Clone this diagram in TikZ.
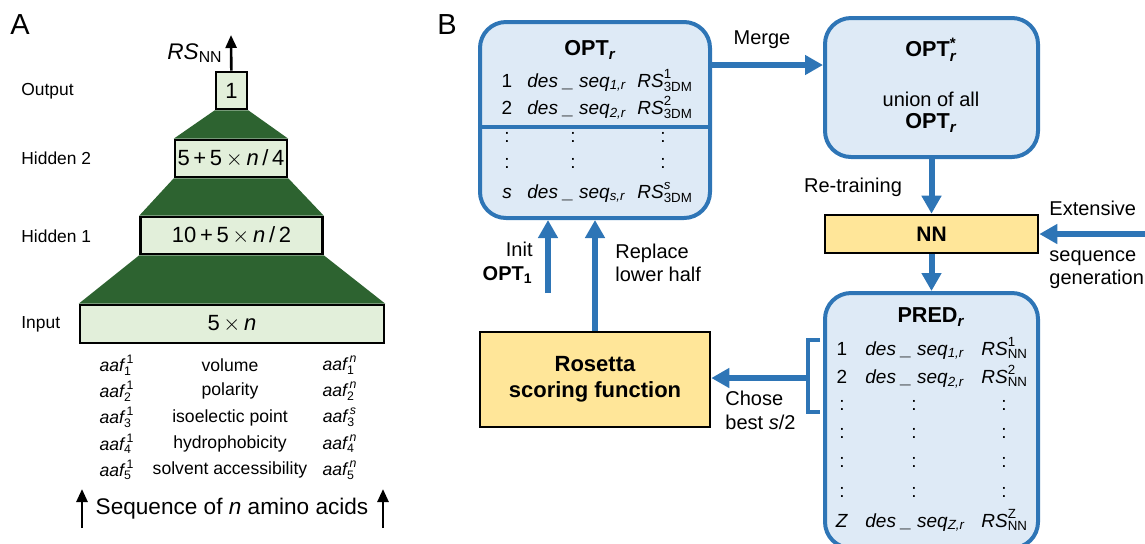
\documentclass[tikz,border=0pt]{standalone}
\usepackage{amsmath}
\usepackage{fontspec}
\setmainfont{Liberation Sans}
\usetikzlibrary{arrows.meta,backgrounds,positioning}

\definecolor{layergreen}{HTML}{E2EFDA}
\definecolor{funnelgreen}{HTML}{2D6330}
\definecolor{poolblue}{HTML}{2E75B6}
\definecolor{poolfill}{HTML}{DEEAF6}
\definecolor{procyellow}{HTML}{FFE699}

\newcommand{\desseq}[1]{\textit{des\ \_\ seq}$_{\text{\itshape #1}}$}
\newcommand{\rscore}[2]{$\textit{RS}^{\text{#1}}_{\text{#2}}$}
\newcommand{\aaf}[2]{$\textit{aaf}^{\,\text{#2}}_{\text{#1}}$}
\newcommand{\boldsub}[2]{\textbf{#1}$_{\text{\bfseries #2}}$}

\tikzset{
  panel/.style={inner sep=0pt, font=\fontsize{14.5}{16}\selectfont},
  layer/.style={draw=black, line width=1.3pt, fill=layergreen, minimum height=18.5pt,
    inner sep=0pt, font=\fontsize{11}{13}\selectfont},
  funnel/.style={fill=funnelgreen},
  lname/.style={anchor=west, inner sep=0pt, font=\fontsize{8.7}{10}\selectfont},
  feat/.style={inner sep=0pt, font=\fontsize{8.8}{10}\selectfont},
  netarrow/.style={line width=1.3pt, -{Triangle[length=6.5pt,width=5.5pt]}},
  pool/.style={draw=poolblue, line width=2pt, fill=poolfill, rounded corners=13pt, inner sep=0pt},
  proc/.style={draw=black, line width=1.3pt, fill=procyellow, inner sep=0pt,
    font=\bfseries\fontsize{10.5}{12}\selectfont},
  flow/.style={draw=poolblue, line width=3pt, -{Triangle[length=9pt,width=9.5pt]}},
  brace/.style={draw=poolblue, line width=2pt},
  lbl/.style={inner sep=0pt, font=\fontsize{10}{11.8}\selectfont},
  ttl/.style={inner sep=0pt, font=\bfseries\fontsize{10.8}{12}\selectfont},
  cell/.style={inner sep=0pt, font=\fontsize{9.5}{11}\selectfont},
}

\begin{document}
\begin{tikzpicture}[x=0.5pt,y=-0.5pt]
  \useasboundingbox (0,0) rectangle (1145,543);

  % ---- A: network layers
  \node[panel] (labA) at (20,25) {A};
  \node[layer, minimum width=15.5pt] (outp) at (231.5,90.5) {1};
  \node[layer, minimum width=56pt] (hid2) at (231,158.5) {5\,+\,5\,$\times$\,\textit{n}\,/\,4};
  \node[layer, minimum width=91pt] (hid1) at (231.5,235.5) {10\,+\,5\,$\times$\,\textit{n}\,/\,2};
  \node[layer, minimum width=152pt, minimum height=19pt] (inp) at (232,324) {5\,$\times$\,\textit{n}};
  \begin{scope}[on background layer]
    \foreach \a/\b in {outp/hid2, hid2/hid1, hid1/inp}
      \fill[funnel] (\a.south west) -- (\a.south east) -- (\b.north east) -- (\b.north west) -- cycle;
  \end{scope}
  \foreach \nm/\ly in {Output/91, Hidden 2/158, Hidden 1/236, Input/324}
    \node[lname] (lay\ly) at (21,\ly) {\nm};

  \coordinate (rsout) at (231,35);
  \draw[netarrow] (outp) -- (rsout);
  \node[anchor=base east, inner sep=0pt, font=\fontsize{11.3}{13}\selectfont] (rslab) at (223,59) {$\textit{RS}_{\text{NN}}$};

  % amino acid features
  \foreach \prop [count=\i] in {volume, polarity, isoelectic point, hydrophobicity, solvent accessibility} {
    \node[feat] (fa\i) at (117,{365+26.25*(\i-1)}) {\aaf{\i}{1}};
    \node[feat] (fp\i) at (230,{365+26.25*(\i-1)}) {\prop};
  }
  \foreach \top [count=\i] in {n,n,s,n,n}
    \node[feat] (fz\i) at (340,{365+26.25*(\i-1)}) {\aaf{\i}{\itshape\top}};

  \node[font=\fontsize{11.3}{13}\selectfont, inner sep=0pt] (seq) at (232,509) {Sequence of \textit{n} amino acids};
  \coordinate (sqa0) at (82,528);  \coordinate (sqa1) at (82,489);
  \coordinate (sqb0) at (383,528); \coordinate (sqb1) at (383,489);
  \draw[netarrow] (sqa0) -- (sqa1);
  \draw[netarrow] (sqb0) -- (sqb1);

  % ---- B: design loop
  \node[panel] (labB) at (447,25) {B};
  \node[pool, minimum width=115pt, minimum height=98pt] (opt) at (595,120) {};
  \node[ttl] (optt) at (590,50) {\textbf{OPT}$_{\text{\bfseries\itshape r}}$};
  \draw[brace] (opt.west |- 0,127) -- (opt.east |- 0,127);
  \foreach \n/\k/\sp/\ry in {1/1/1/87, 2/2/2/114, \textit{s}/s/\itshape s/198} {
    \node[cell, anchor=base] (on\k) at (507,\ry) {\n};
    \node[cell, anchor=base west] (os\k) at (527,\ry) {\desseq{\k,r}};
    \node[cell, anchor=base west] (or\k) at (637,\ry) {\rscore{\sp}{3DM}};
  }
  \foreach \ry in {142,168}
    \foreach \cx in {507,573,663}
      \node[cell, anchor=base] (od\cx\ry) at (\cx,\ry) {:};

  \node[pool, minimum width=106.5pt, minimum height=69.5pt] (optall) at (931.5,87.5) {};
  \node[ttl] (optallt) at (931,50) {\textbf{OPT}$^{\text{*}}_{\text{\bfseries\itshape r}}$};
  \node[lbl] (union) at (931,99) {union of all};
  \node[ttl] (unionb) at (931,123) {\textbf{OPT}$_{\text{\bfseries\itshape r}}$};

  \coordinate (mrg) at (760,65);
  \draw[flow] (opt.east |- mrg) -- (optall.west |- mrg);
  \node[lbl] (mrglab) at (762,40) {Merge};

  \node[proc, minimum width=106.5pt, minimum height=19pt] (nn) at (931.5,234) {NN};
  \draw[flow] (optall) -- (nn);
  \node[lbl] (retrain) at (853,187) {Re-training};

  \coordinate (extsrc) at (1150,234);
  \draw[flow] (extsrc) -- (nn);
  \node[lbl, anchor=west] (ext1) at (1049,208) {Extensive};
  \node[lbl, anchor=north west, align=left] (ext2) at (1049,250) {sequence\\generation};

  \node[pool, minimum width=106.5pt, minimum height=127.5pt] (pred) at (931.5,420.5) {};
  \draw[flow] (nn) -- (pred);
  \node[ttl] (predt) at (931,317) {\textbf{PRED}$_{\text{\bfseries\itshape r}}$};
  \foreach \n/\k/\ry in {1/1/355, 2/2/383, \textit{Z}/Z/527} {
    \node[cell, anchor=base] (pn\k) at (842,\ry) {\n};
    \node[cell, anchor=base west] (ps\k) at (865,\ry) {\desseq{\k,r}};
    \node[cell, anchor=base west] (pr\k) at (981,\ry) {\rscore{\k}{NN}};
  }
  \foreach \ry in {410,438,467,497}
    \foreach \cx in {842,914,1004}
      \node[cell, anchor=base] (pd\cx\ry) at (\cx,\ry) {:};

  \node[proc, minimum width=115pt, minimum height=47.5pt, align=center,
        font=\bfseries\fontsize{11}{13}\selectfont] (rosetta) at (595,379.5) {Rosetta\\scoring function};

  % best half of the predictions goes to rescoring
  \coordinate (bt) at (820,340);
  \coordinate (bb) at (820,412);
  \coordinate (bm) at (808,378);
  \draw[brace] (bt) -- ++(-12,0) -- ++(0,72) -- (bb);
  \draw[flow] (bm) -- (rosetta.east |- bm);
  \node[lbl, anchor=north west, align=left] (chose) at (725,391) {Chose\\best \textit{s}/2};

  \draw[flow] (rosetta) -- (opt);
  \node[lbl, anchor=west, align=left] (repl) at (615,263) {Replace\\lower half};

  \coordinate (initsrc) at (548,293);
  \draw[flow] (initsrc) -- (opt.south -| initsrc);
  \node[lbl, anchor=east, align=right] (initlab) at (533,263) {Init\\\boldsub{OPT}{1}};
\end{tikzpicture}
\end{document}
